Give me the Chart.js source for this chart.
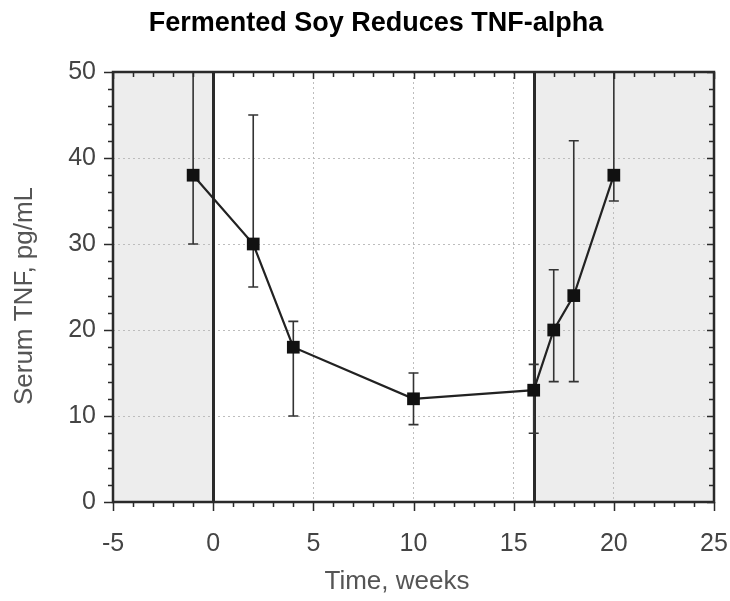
<!DOCTYPE html>
<html>
<head>
<meta charset="utf-8">
<script src="https://cdn.jsdelivr.net/npm/chart.js@4.4.1/dist/chart.umd.min.js"></script>
<style>
  html, body { margin: 0; padding: 0; background: #fff; }
  #wrap { width: 730px; height: 601px; }
</style>
</head>
<body>
<div id="wrap"><canvas id="tnfChart" width="730" height="601"></canvas></div>
<script>
const weeks = [-1, 2, 4, 10, 16, 17, 18, 20];
const tnf = [38, 30, 18, 12, 13, 20, 24, 38];
const errLow = [30, 25, 10, 9, 8, 14, 14, 35];
const errHigh = [52, 45, 21, 15, 16, 27, 42, 52];
const shadedWeeks = [[-5, 0], [16, 25]];
const phaseLines = [0, 16];

document.addEventListener("DOMContentLoaded", () => {
  const ctx = document.getElementById("tnfChart").getContext('2d');
  const axisColor = '#2a2a2a';
  const fontFamily = 'Liberation Sans, Arial, sans-serif';

  // grey background bands behind the grid
  const bands = {
    id: 'bands',
    beforeDraw: (chart) => {
      const {ctx, chartArea: a, scales: {x}} = chart;
      ctx.save();
      ctx.fillStyle = '#ededed';
      shadedWeeks.forEach(([s, e]) => {
        const x0 = x.getPixelForValue(s), x1 = x.getPixelForValue(e);
        ctx.fillRect(x0, a.top, x1 - x0, a.bottom - a.top);
      });
      ctx.restore();
    },
    beforeDatasetsDraw: (chart) => {
      const {ctx, chartArea: a, scales: {x}} = chart;
      ctx.save();
      ctx.strokeStyle = axisColor;
      ctx.lineWidth = 3;
      phaseLines.forEach(v => {
        const px = Math.round(x.getPixelForValue(v)) + 0.5;
        ctx.beginPath();
        ctx.moveTo(px, a.top);
        ctx.lineTo(px, a.bottom);
        ctx.stroke();
      });
      ctx.restore();
    }
  };

  // vertical error bars with caps
  const errorBars = {
    id: 'errorBars',
    beforeDatasetsDraw: (chart) => {
      const {ctx, chartArea: a, scales: {x, y}} = chart;
      ctx.save();
      ctx.beginPath();
      ctx.rect(a.left, a.top, a.right - a.left, a.bottom - a.top);
      ctx.clip();
      ctx.strokeStyle = '#333';
      ctx.lineWidth = 1.6;
      weeks.forEach((w, i) => {
        const px = x.getPixelForValue(w);
        const lo = y.getPixelForValue(errLow[i]);
        const hi = y.getPixelForValue(errHigh[i]);
        ctx.beginPath();
        ctx.moveTo(px, lo); ctx.lineTo(px, hi);
        ctx.moveTo(px - 5, lo); ctx.lineTo(px + 5, lo);
        ctx.moveTo(px - 5, hi); ctx.lineTo(px + 5, hi);
        ctx.stroke();
      });
      ctx.restore();
    }
  };

  // frame and minor/major ticks on all four sides
  const frame = {
    id: 'frame',
    afterDatasetsDraw: (chart) => {
      const {ctx, chartArea: a, scales: {x, y}} = chart;
      ctx.save();
      ctx.strokeStyle = axisColor;
      ctx.lineWidth = 1.5;
      for (let v = -5; v <= 25; v++) {
        const px = Math.round(x.getPixelForValue(v)) + 0.5;
        const major = v % 5 === 0;
        ctx.beginPath();
        ctx.moveTo(px, a.bottom); ctx.lineTo(px, a.bottom + (major ? 9 : 5));
        ctx.moveTo(px, a.top); ctx.lineTo(px, a.top + (major ? 7 : 5));
        ctx.stroke();
      }
      for (let v = 0; v <= 50; v += 2) {
        const py = Math.round(y.getPixelForValue(v)) + 0.5;
        const major = v % 10 === 0;
        ctx.beginPath();
        ctx.moveTo(a.left, py); ctx.lineTo(a.left - (major ? 9 : 5), py);
        ctx.moveTo(a.right, py); ctx.lineTo(a.right - (major ? 7 : 5), py);
        ctx.stroke();
      }
      ctx.lineWidth = 2.5;
      ctx.strokeRect(a.left, a.top, a.right - a.left, a.bottom - a.top);
      ctx.restore();
    }
  };

  // chart title and axis titles (the original centres them off the plot centre)
  const labels = {
    id: 'labels',
    afterDraw: (chart) => {
      const ctx = chart.ctx;
      ctx.save();
      ctx.textAlign = 'center';
      ctx.textBaseline = 'middle';
      ctx.fillStyle = '#000';
      ctx.font = 'bold 27px ' + fontFamily;
      ctx.fillText('Fermented Soy Reduces TNF-alpha', 376, 24);
      ctx.fillStyle = '#555';
      ctx.font = '26px ' + fontFamily;
      ctx.fillText('Time, weeks', 397, 582);
      ctx.translate(25, 296);
      ctx.rotate(-Math.PI / 2);
      ctx.fillText('Serum TNF, pg/mL', 0, 0);
      ctx.restore();
    }
  };

  new Chart(ctx, {
    type: 'scatter',
    data: {
      datasets: [{
        label: 'Serum TNF',
        data: weeks.map((w, i) => ({x: w, y: tnf[i]})),
        showLine: true,
        borderColor: '#222',
        borderWidth: 2.2,
        pointStyle: 'rect',
        pointRadius: 9,
        pointHoverRadius: 9,
        pointBackgroundColor: '#111',
        pointBorderColor: '#111',
        pointBorderWidth: 0
      }]
    },
    options: {
      responsive: false,
      animation: false,
      layout: { padding: { top: 72, right: 16, bottom: 0, left: 0 } },
      plugins: {
        legend: { display: false },
        tooltip: { enabled: false },
        title: { display: false }
      },
      scales: {
        x: {
          type: 'linear',
          min: -5,
          max: 25,
          afterFit: (s) => { s.height = 99; s.paddingLeft = 0; s.paddingRight = 0; },
          ticks: {
            stepSize: 5,
            padding: 27,
            color: '#444',
            font: { family: fontFamily, size: 25 }
          },
          grid: { color: '#bdbdbd', lineWidth: 1, drawTicks: false },
          border: { display: false, dash: [2, 3] }
        },
        y: {
          min: 0,
          max: 50,
          afterFit: (s) => { s.width = 113; s.paddingTop = 0; s.paddingBottom = 0; },
          ticks: {
            stepSize: 10,
            padding: 17,
            color: '#444',
            font: { family: fontFamily, size: 25 }
          },
          grid: { color: '#bdbdbd', lineWidth: 1, drawTicks: false },
          border: { display: false, dash: [2, 3] }
        }
      }
    },
    plugins: [bands, errorBars, frame, labels]
  });
});
</script>
</body>
</html>
